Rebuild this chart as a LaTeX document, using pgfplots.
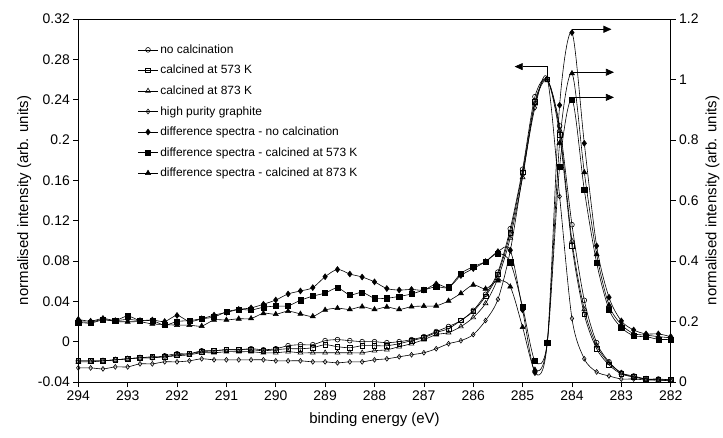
\documentclass[border=0pt]{standalone}
\usepackage{fontspec}
\setmainfont{Liberation Sans}
\usepackage{pgfplots}
\usepackage{pgfplotstable}
\pgfplotsset{compat=1.18}
\usetikzlibrary{arrows.meta,calc}

% binding energy, original spectra (left axis)
\pgfplotstableread{
be     nocalc  cfive   ceight  graph
294.00 -0.019  -0.019  -0.020  -0.026
293.75 -0.019  -0.019  -0.020  -0.026
293.50 -0.019  -0.019  -0.019  -0.027
293.25 -0.018  -0.018  -0.018  -0.025
293.00 -0.017  -0.017  -0.017  -0.025
292.75 -0.016  -0.016  -0.016  -0.022
292.50 -0.016  -0.015  -0.016  -0.022
292.25 -0.014  -0.015  -0.015  -0.020
292.00 -0.012  -0.013  -0.014  -0.020
291.75 -0.012  -0.012  -0.013  -0.019
291.50 -0.009  -0.010  -0.011  -0.017
291.25 -0.009  -0.009  -0.011  -0.018
291.00 -0.008  -0.008  -0.010  -0.018
290.75 -0.008  -0.008  -0.010  -0.018
290.50 -0.007  -0.008  -0.010  -0.018
290.25 -0.008  -0.009  -0.011  -0.018
290.00 -0.007  -0.008  -0.011  -0.019
289.75 -0.004  -0.007  -0.010  -0.019
289.50 -0.003  -0.007  -0.011  -0.019
289.25 -0.003  -0.006  -0.011  -0.020
289.00  0.001  -0.003  -0.011  -0.020
288.75  0.002  -0.005  -0.011  -0.021
288.50  0.001  -0.006  -0.011  -0.020
288.25  0.000  -0.004  -0.011  -0.020
288.00  0.000  -0.004  -0.009  -0.018
287.75 -0.001  -0.004  -0.008  -0.017
287.50  0.000  -0.002  -0.005  -0.015
287.25  0.002   0.001  -0.002  -0.013
287.00  0.005   0.004   0.002  -0.011
286.75  0.010   0.009   0.007  -0.007
286.50  0.015   0.013   0.009  -0.002
286.25  0.021   0.021   0.015   0.001
286.00  0.031   0.030   0.024   0.007
285.75  0.047   0.045   0.038   0.021
285.50  0.069   0.067   0.063   0.042
285.25  0.112   0.108   0.103   0.090
285.00  0.171   0.168   0.163   0.165
284.75  0.243   0.238   0.236   0.232
284.50  0.260   0.260   0.259   0.261
284.25  0.214   0.205   0.210   0.144
284.00  0.116   0.095   0.100   0.023
283.75  0.041   0.027   0.032  -0.017
283.50 -0.001  -0.007  -0.004  -0.030
283.25 -0.020  -0.023  -0.021  -0.034
283.00 -0.031  -0.032  -0.031  -0.037
282.75 -0.034  -0.035  -0.035  -0.037
282.50 -0.037  -0.037  -0.037  -0.038
282.25 -0.037  -0.038  -0.038  -0.038
282.00 -0.038  -0.038  -0.038  -0.039
}\orig

% difference spectra (right axis)
\pgfplotstableread{
be     dno    dfive  deight
294.00 0.207  0.197  0.200
293.75 0.201  0.195  0.198
293.50 0.210  0.205  0.207
293.25 0.203  0.203  0.200
293.00 0.207  0.218  0.199
292.75 0.203  0.203  0.199
292.50 0.205  0.203  0.192
292.25 0.200  0.188  0.190
292.00 0.220  0.200  0.188
291.75 0.200  0.203  0.188
291.50 0.209  0.209  0.185
291.25 0.221  0.215  0.205
291.00 0.230  0.232  0.205
290.75 0.240  0.240  0.209
290.50 0.245  0.238  0.210
290.25 0.257  0.247  0.227
290.00 0.271  0.251  0.224
289.75 0.291  0.252  0.234
289.50 0.301  0.270  0.225
289.25 0.312  0.284  0.217
289.00 0.348  0.294  0.238
288.75 0.372  0.311  0.244
288.50 0.357  0.288  0.240
288.25 0.347  0.296  0.249
288.00 0.331  0.277  0.240
287.75 0.309  0.277  0.248
287.50 0.304  0.283  0.240
287.25 0.306  0.291  0.249
287.00 0.304  0.304  0.251
286.75 0.324  0.315  0.252
286.50 0.313  0.313  0.268
286.25 0.352  0.359  0.293
286.00 0.375  0.381  0.321
285.75 0.398  0.398  0.308
285.50 0.431  0.425  0.335
285.25 0.436  0.396  0.315
285.00 0.238  0.249  0.181
284.75 0.031  0.070  0.040
284.50 0.131  0.131  0.131
284.25 0.915  0.712  0.790
284.00 1.155  0.934  1.020
283.75 0.789  0.635  0.693
283.50 0.450  0.394  0.422
283.25 0.280  0.240  0.254
283.00 0.202  0.180  0.190
282.75 0.172  0.153  0.160
282.50 0.159  0.150  0.155
282.25 0.159  0.141  0.150
282.00 0.150  0.141  0.146
}\diff

\pgfplotsset{
  common/.style={
    scale only axis, width=592.4bp, height=363bp,
    xmin=282, xmax=294, x dir=reverse,
    tick align=outside, major tick length=5bp,
    tick style={black, line width=0.6pt},
    axis line style={line width=0.7pt},
    /pgf/number format/assume math mode=true,
    tick label style={font=\fontsize{14}{16}\selectfont},
    label style={font=\fontsize{15}{17}\selectfont},
  },
  ser/.style={black, line width=0.6pt, smooth, tension=0.5, mark options={solid, line width=0.5pt}},
}

\begin{document}
\begin{tikzpicture}
\begin{axis}[common,
  ymin=-0.04, ymax=0.32,
  ytick={-0.04,0,0.04,0.08,0.12,0.16,0.2,0.24,0.28,0.32},
  yticklabels={-0.04,0,0.04,0.08,0.12,0.16,0.2,0.24,0.28,0.32},
  xtick={282,...,294},
  xtick pos=bottom, ytick pos=left,
  xlabel={binding energy (eV)},
  xlabel style={yshift=-5bp},
  ylabel={normalised intensity (arb. units)},
  legend style={draw=none, fill=none, at={(0.1,0.935)}, anchor=north west,
    font=\fontsize{12}{14}\selectfont, row sep=6.4bp, inner sep=0pt},
  legend cell align=left,
  legend image code/.code={\draw[mark repeat=2,mark phase=2] plot coordinates {(0bp,0bp) (10bp,0bp) (20bp,0bp)};},
]
\addplot[ser, mark=o, mark size=2.4pt, mark options={fill=white}] table[x=be,y=nocalc] {\orig};
\addlegendentry{no calcination}
\addplot[ser, mark=square, mark size=2.3pt, mark options={fill=white}] table[x=be,y=cfive] {\orig};
\addlegendentry{calcined at 573 K}
\addplot[ser, mark=triangle, mark size=2.8pt, mark options={fill=white}] table[x=be,y=ceight] {\orig};
\addlegendentry{calcined at 873 K}
\addplot[ser, mark=diamond, mark size=2.4pt, mark options={fill=white}] table[x=be,y=graph] {\orig};
\addlegendentry{high purity graphite}
\addlegendimage{ser, mark=diamond*, mark size=3pt}
\addlegendentry{difference spectra - no calcination}
\addlegendimage{ser, mark=square*, mark size=2.6pt}
\addlegendentry{difference spectra - calcined at 573 K}
\addlegendimage{ser, mark=triangle*, mark size=3pt}
\addlegendentry{difference spectra - calcined at 873 K}
\draw[line width=0.7pt, -{Triangle[length=8bp,width=7bp]}]
  (axis cs:284.5,0.2605) -- (axis cs:284.5,0.2728) -- (axis cs:285.16,0.2728);
\end{axis}
\begin{axis}[common,
  ymin=0, ymax=1.2,
  ytick={0,0.2,0.4,0.6,0.8,1,1.2},
  yticklabels={0,0.2,0.4,0.6,0.8,1,1.2},
  axis y line*=right, axis x line=none,
  ylabel={normalised intensity (arb. units)},
]
\addplot[ser, mark=diamond*, mark size=3pt] table[x=be,y=dno] {\diff};
\addplot[ser, mark=square*, mark size=2.6pt] table[x=be,y=dfive] {\diff};
\addplot[ser, mark=triangle*, mark size=3pt] table[x=be,y=deight] {\diff};
\draw[line width=0.7pt, -{Triangle[length=8bp,width=7bp]}]
  (axis cs:283.99,1.155) -- (axis cs:283.99,1.166) -- (axis cs:283.2,1.166);
\draw[line width=0.7pt, -{Triangle[length=8bp,width=7bp]}]
  (axis cs:283.99,1.020) -- (axis cs:283.99,1.024) -- (axis cs:283.15,1.024);
\draw[line width=0.7pt, -{Triangle[length=8bp,width=7bp]}]
  (axis cs:283.99,0.934) -- (axis cs:283.99,0.941) -- (axis cs:283.15,0.941);
\end{axis}
\pgfresetboundingbox
\path[use as bounding box] ($(current axis.south west)+(-78.3bp,-56bp)$) rectangle ($(current axis.north east)+(52.3bp,19bp)$);
\end{tikzpicture}
\end{document}
